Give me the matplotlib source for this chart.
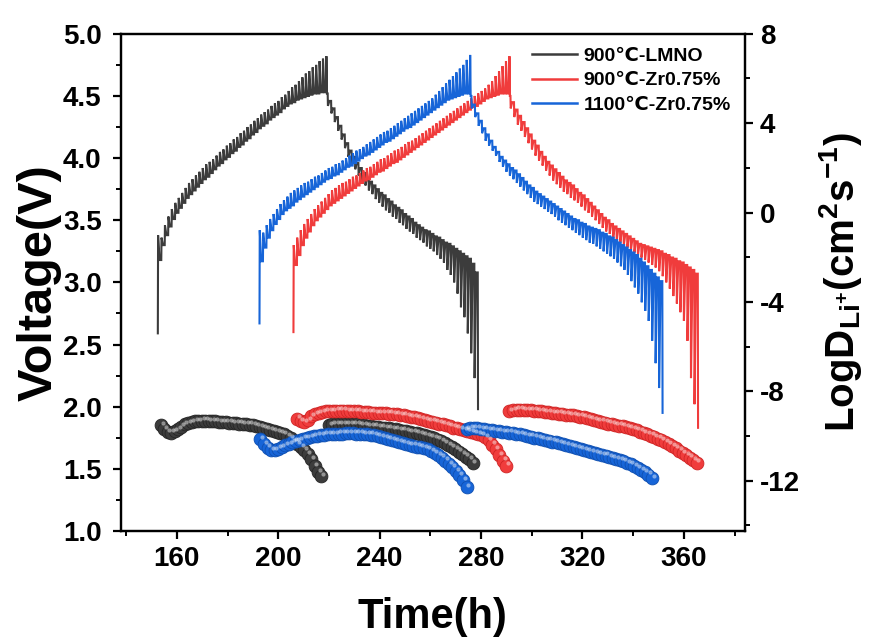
import numpy as np
import matplotlib.pyplot as plt
from matplotlib.lines import Line2D
from matplotlib.ticker import MultipleLocator
import matplotlib.transforms as mtransforms

plt.rcParams['font.family'] = ['Liberation Sans', 'DejaVu Sans']
plt.rcParams['font.weight'] = 'bold'
plt.rcParams['axes.unicode_minus'] = False
plt.rcParams['mathtext.fontset'] = 'custom'
plt.rcParams['mathtext.rm'] = 'Liberation Sans:bold'
plt.rcParams['mathtext.bf'] = 'Liberation Sans:bold'
plt.rcParams['mathtext.it'] = 'Liberation Sans:bold'

labels = ['900℃-LMNO', '900℃-Zr0.75%', '1100℃-Zr0.75%']
colors = ['#3c3c3c', '#f03c3c', '#1765d8']

# ---- GITT voltage, one value per pulse: rest (relaxed) voltage and pulse tip ----
# 900C-LMNO
bk_ch_t = (152.5, 218.9)
bk_ch_rest = [2.59, 3.18, 3.30, 3.38, 3.45, 3.51, 3.56, 3.60, 3.64, 3.68,
              3.71, 3.74, 3.77, 3.80, 3.83, 3.85, 3.88, 3.91, 3.94, 3.96,
              3.99, 4.01, 4.04, 4.06, 4.09, 4.11, 4.14, 4.16, 4.19, 4.21,
              4.24, 4.26, 4.28, 4.31, 4.33, 4.35, 4.37, 4.40, 4.42, 4.44,
              4.45, 4.47, 4.48, 4.49, 4.50, 4.51, 4.52, 4.52, 4.53, 4.53]
bk_ch_pulse = [3.38, 3.36, 3.46, 3.53, 3.59, 3.64, 3.68, 3.72, 3.76, 3.80,
               3.83, 3.86, 3.89, 3.92, 3.95, 3.97, 3.99, 4.02, 4.05, 4.07,
               4.10, 4.12, 4.15, 4.17, 4.20, 4.22, 4.25, 4.27, 4.30, 4.32,
               4.35, 4.37, 4.39, 4.42, 4.44, 4.46, 4.49, 4.51, 4.54, 4.57,
               4.59, 4.62, 4.65, 4.68, 4.70, 4.73, 4.75, 4.78, 4.80, 4.82]
bk_dis_t = (219.5, 278.7)
bk_dis_rest = [4.52, 4.46, 4.40, 4.33, 4.26, 4.19, 4.12, 4.06, 4.01, 3.96,
               3.92, 3.88, 3.84, 3.81, 3.78, 3.75, 3.72, 3.70, 3.67, 3.65,
               3.62, 3.60, 3.58, 3.55, 3.53, 3.51, 3.48, 3.46, 3.44, 3.42,
               3.41, 3.39, 3.37, 3.36, 3.34, 3.32, 3.31, 3.29, 3.27, 3.25,
               3.23, 3.21, 3.19, 3.15, 3.08]
bk_dis_pulse = [4.42, 4.36, 4.29, 4.22, 4.15, 4.08, 4.01, 3.95, 3.91, 3.86,
                3.82, 3.78, 3.74, 3.71, 3.67, 3.64, 3.61, 3.58, 3.56, 3.53,
                3.51, 3.48, 3.46, 3.43, 3.41, 3.39, 3.36, 3.34, 3.32, 3.29,
                3.27, 3.25, 3.22, 3.19, 3.16, 3.10, 3.06, 3.00, 2.91, 2.80,
                2.72, 2.59, 2.43, 2.23, 1.98]

# 900C-Zr0.75%
rd_ch_t = (206.0, 291.1)
rd_ch_rest = [2.60, 3.14, 3.22, 3.30, 3.36, 3.41, 3.46, 3.50, 3.53, 3.56,
              3.59, 3.62, 3.64, 3.66, 3.68, 3.70, 3.72, 3.74, 3.76, 3.78,
              3.80, 3.82, 3.83, 3.85, 3.87, 3.89, 3.90, 3.92, 3.94, 3.96,
              3.97, 3.99, 4.01, 4.03, 4.05, 4.07, 4.09, 4.11, 4.13, 4.15,
              4.17, 4.19, 4.21, 4.23, 4.25, 4.27, 4.29, 4.31, 4.33, 4.35,
              4.37, 4.39, 4.41, 4.42, 4.44, 4.46, 4.48, 4.49, 4.50, 4.51,
              4.52, 4.52, 4.52]
rd_ch_pulse = [3.30, 3.36, 3.42, 3.47, 3.51, 3.55, 3.59, 3.62, 3.65, 3.68,
               3.71, 3.74, 3.76, 3.78, 3.80, 3.81, 3.83, 3.85, 3.86, 3.88,
               3.90, 3.92, 3.93, 3.95, 3.97, 3.99, 4.00, 4.02, 4.04, 4.06,
               4.07, 4.09, 4.11, 4.13, 4.14, 4.16, 4.18, 4.20, 4.22, 4.24,
               4.26, 4.28, 4.30, 4.32, 4.34, 4.36, 4.38, 4.40, 4.42, 4.44,
               4.46, 4.48, 4.50, 4.52, 4.54, 4.56, 4.59, 4.62, 4.66, 4.70,
               4.74, 4.78, 4.82]
rd_dis_t = (291.6, 365.5)
rd_dis_rest = [4.50, 4.45, 4.39, 4.34, 4.29, 4.24, 4.19, 4.14, 4.10, 4.05,
               4.01, 3.97, 3.94, 3.91, 3.88, 3.85, 3.82, 3.80, 3.78, 3.75,
               3.72, 3.70, 3.67, 3.64, 3.61, 3.58, 3.55, 3.52, 3.50, 3.47,
               3.45, 3.43, 3.41, 3.39, 3.37, 3.35, 3.33, 3.31, 3.30, 3.29,
               3.28, 3.27, 3.26, 3.25, 3.23, 3.22, 3.20, 3.19, 3.17, 3.16,
               3.14, 3.12, 3.10, 3.07]
rd_dis_pulse = [4.40, 4.33, 4.27, 4.22, 4.17, 4.12, 4.07, 4.02, 3.98, 3.94,
                3.90, 3.86, 3.82, 3.79, 3.76, 3.73, 3.71, 3.68, 3.66, 3.64,
                3.61, 3.58, 3.56, 3.53, 3.50, 3.47, 3.44, 3.41, 3.39, 3.36,
                3.34, 3.32, 3.30, 3.28, 3.26, 3.24, 3.22, 3.20, 3.18, 3.16,
                3.14, 3.12, 3.09, 3.05, 3.00, 2.95, 2.89, 2.83, 2.76, 2.69,
                2.53, 2.23, 2.02, 1.83]

# 1100C-Zr0.75%
bl_ch_t = (192.6, 275.6)
bl_ch_rest = [2.67, 3.17, 3.28, 3.36, 3.42, 3.47, 3.51, 3.55, 3.58, 3.60,
              3.62, 3.65, 3.67, 3.69, 3.71, 3.73, 3.75, 3.77, 3.79, 3.81,
              3.83, 3.84, 3.86, 3.87, 3.89, 3.91, 3.93, 3.94, 3.96, 3.98,
              4.00, 4.02, 4.03, 4.05, 4.07, 4.09, 4.11, 4.13, 4.14, 4.16,
              4.18, 4.20, 4.22, 4.24, 4.25, 4.27, 4.29, 4.31, 4.33, 4.35,
              4.37, 4.39, 4.41, 4.43, 4.45, 4.47, 4.48, 4.49, 4.50, 4.51,
              4.52, 4.52]
bl_ch_pulse = [3.42, 3.40, 3.46, 3.51, 3.55, 3.59, 3.63, 3.66, 3.69, 3.72,
               3.74, 3.76, 3.78, 3.80, 3.81, 3.83, 3.85, 3.86, 3.88, 3.90,
               3.92, 3.93, 3.95, 3.96, 3.98, 4.00, 4.02, 4.04, 4.06, 4.07,
               4.09, 4.11, 4.13, 4.15, 4.17, 4.19, 4.21, 4.22, 4.24, 4.26,
               4.28, 4.30, 4.32, 4.34, 4.36, 4.38, 4.40, 4.42, 4.44, 4.46,
               4.48, 4.51, 4.54, 4.57, 4.60, 4.63, 4.66, 4.69, 4.72, 4.75,
               4.79, 4.83]
bl_dis_t = (276.2, 351.5)
bl_dis_rest = [4.50, 4.43, 4.36, 4.30, 4.24, 4.19, 4.14, 4.09, 4.05, 4.01,
               3.98, 3.95, 3.92, 3.90, 3.87, 3.84, 3.81, 3.78, 3.76, 3.73,
               3.71, 3.69, 3.67, 3.65, 3.63, 3.61, 3.59, 3.57, 3.55, 3.53,
               3.51, 3.50, 3.48, 3.47, 3.45, 3.44, 3.43, 3.42, 3.40, 3.39,
               3.37, 3.36, 3.34, 3.32, 3.30, 3.28, 3.26, 3.24, 3.22, 3.19,
               3.16, 3.13, 3.10, 3.07, 3.04, 3.01]
bl_dis_pulse = [4.40, 4.33, 4.26, 4.20, 4.14, 4.10, 4.06, 4.02, 3.97, 3.93,
                3.89, 3.86, 3.83, 3.80, 3.77, 3.74, 3.71, 3.68, 3.65, 3.63,
                3.61, 3.59, 3.57, 3.55, 3.53, 3.50, 3.48, 3.46, 3.44, 3.42,
                3.40, 3.38, 3.36, 3.34, 3.32, 3.31, 3.29, 3.27, 3.25, 3.23,
                3.21, 3.19, 3.16, 3.13, 3.10, 3.06, 3.01, 2.96, 2.91, 2.84,
                2.77, 2.69, 2.53, 2.35, 2.15, 1.95]

# ---- LogD (one point per titration step) ----
bk_d1_t = (153.7, 217.0)
bk_d1 = [-9.50, -9.70, -9.82, -9.85, -9.78, -9.68, -9.58, -9.48, -9.41, -9.37,
         -9.34, -9.32, -9.31, -9.31, -9.32, -9.33, -9.35, -9.37, -9.38, -9.39,
         -9.40, -9.41, -9.42, -9.44, -9.45, -9.47, -9.49, -9.52, -9.56, -9.60,
         -9.65, -9.70, -9.75, -9.79, -9.83, -9.87, -9.92, -10.00, -10.10, -10.22,
         -10.36, -10.50, -10.62, -10.80, -11.05, -11.35, -11.62, -11.80]
bk_d2_t = (220.0, 276.7)
bk_d2 = [-9.50, -9.48, -9.46, -9.45, -9.45, -9.45, -9.46, -9.47, -9.48, -9.50,
         -9.52, -9.54, -9.56, -9.58, -9.60, -9.62, -9.64, -9.66, -9.68, -9.70,
         -9.73, -9.76, -9.79, -9.82, -9.85, -9.88, -9.91, -9.95, -9.99, -10.04,
         -10.10, -10.16, -10.23, -10.31, -10.40, -10.50, -10.60, -10.70, -10.80, -10.92,
         -11.05, -11.20]
rd_d1_t = (207.5, 290.0)
rd_d1 = [-9.22, -9.35, -9.38, -9.28, -9.12, -9.02, -8.96, -8.92, -8.90, -8.88,
         -8.87, -8.86, -8.86, -8.86, -8.87, -8.88, -8.89, -8.90, -8.92, -8.93,
         -8.94, -8.95, -8.96, -8.97, -8.98, -8.99, -9.00, -9.01, -9.03, -9.05,
         -9.08, -9.11, -9.14, -9.17, -9.20, -9.24, -9.28, -9.32, -9.36, -9.40,
         -9.44, -9.48, -9.52, -9.57, -9.62, -9.66, -9.70, -9.74, -9.78, -9.82,
         -9.86, -9.91, -9.97, -10.05, -10.18, -10.38, -10.60, -10.85, -11.10, -11.32]
rd_d2_t = (291.2, 365.1)
rd_d2 = [-8.88, -8.84, -8.82, -8.82, -8.83, -8.84, -8.85, -8.86, -8.88, -8.90,
         -8.92, -8.94, -8.96, -8.98, -9.00, -9.02, -9.04, -9.06, -9.08, -9.10,
         -9.13, -9.16, -9.20, -9.24, -9.28, -9.32, -9.36, -9.40, -9.44, -9.47,
         -9.50, -9.53, -9.57, -9.61, -9.65, -9.70, -9.75, -9.80, -9.86, -9.92,
         -9.98, -10.05, -10.12, -10.20, -10.28, -10.36, -10.45, -10.55, -10.65, -10.75,
         -10.86, -10.97, -11.08, -11.19]
bl_d1_t = (193.0, 274.3)
bl_d1 = [-10.15, -10.35, -10.52, -10.62, -10.63, -10.56, -10.48, -10.41, -10.35, -10.29,
         -10.23, -10.17, -10.12, -10.08, -10.04, -10.01, -9.98, -9.96, -9.94, -9.92,
         -9.91, -9.90, -9.89, -9.89, -9.88, -9.88, -9.88, -9.89, -9.89, -9.90,
         -9.92, -9.94, -9.97, -10.00, -10.04, -10.08, -10.13, -10.18, -10.23, -10.27,
         -10.31, -10.35, -10.39, -10.43, -10.47, -10.51, -10.55, -10.60, -10.67, -10.75,
         -10.85, -10.97, -11.10, -11.25, -11.40, -11.57, -11.75, -11.98, -12.28]
bl_d2_t = (274.3, 347.4)
bl_d2 = [-9.68, -9.66, -9.65, -9.66, -9.68, -9.70, -9.72, -9.75, -9.77, -9.79,
         -9.81, -9.83, -9.85, -9.87, -9.90, -9.93, -9.96, -9.99, -10.03, -10.07,
         -10.11, -10.15, -10.18, -10.21, -10.25, -10.29, -10.33, -10.37, -10.41, -10.45,
         -10.49, -10.53, -10.57, -10.62, -10.67, -10.72, -10.76, -10.80, -10.84, -10.88,
         -10.93, -10.98, -11.03, -11.08, -11.14, -11.20, -11.27, -11.34, -11.42, -11.51,
         -11.61, -11.73, -11.88]


def gitt_path(ch_t, ch_rest, ch_pulse, dis_t, dis_rest, dis_pulse):
    t = list(np.linspace(ch_t[0], ch_t[1], len(ch_rest))) + \
        list(np.linspace(dis_t[0], dis_t[1], len(dis_rest)))
    rest = ch_rest + dis_rest
    pulse = ch_pulse + dis_pulse
    xs, ys = [], []
    for i in range(len(t)):
        xs += [t[i], t[i] + 0.1]
        ys += [rest[i], pulse[i]]
        if i + 1 < len(t):
            xs.append(t[i] + 0.5 * (t[i + 1] - t[i]))
            ys.append(rest[i + 1])
    return xs, ys


fig = plt.figure(figsize=(8.71, 6.44), dpi=100)
ax = fig.add_axes([0.139, 0.1755, 0.716, 0.772])
ax2 = ax.twinx()

curves = [
    (bk_ch_t, bk_ch_rest, bk_ch_pulse, bk_dis_t, bk_dis_rest, bk_dis_pulse),
    (rd_ch_t, rd_ch_rest, rd_ch_pulse, rd_dis_t, rd_dis_rest, rd_dis_pulse),
    (bl_ch_t, bl_ch_rest, bl_ch_pulse, bl_dis_t, bl_dis_rest, bl_dis_pulse),
]
for c, col in zip(curves, colors):
    x, y = gitt_path(*c)
    ax.plot(x, y, color=col, lw=1.5, solid_joinstyle='miter')

# diffusion coefficient beads
hl = mtransforms.offset_copy(ax2.transData, fig=fig, x=1.2, y=1.6, units='points')
groups = [(bk_d1_t, bk_d1, 0), (bk_d2_t, bk_d2, 0),
          (rd_d1_t, rd_d1, 1), (rd_d2_t, rd_d2, 1),
          (bl_d1_t, bl_d1, 2), (bl_d2_t, bl_d2, 2)]
edges = ['#262626', '#cf2525', '#0f4fb0']
for tr, vals, ci in groups:
    tt = np.linspace(tr[0], tr[1], len(vals))
    ax2.scatter(tt, vals, s=85, color=colors[ci], edgecolors=edges[ci],
                linewidths=0.6, zorder=3)
    ax2.scatter(tt, vals, s=9, color='white', alpha=0.45, lw=0,
                transform=hl, zorder=4)

ax.set_xlim(138, 384)
ax.set_ylim(1.0, 5.0)
ax2.set_ylim(-14.25, 8)

ax.xaxis.set_major_locator(MultipleLocator(40))
ax.xaxis.set_minor_locator(MultipleLocator(20))
ax.yaxis.set_major_locator(MultipleLocator(0.5))
ax.yaxis.set_minor_locator(MultipleLocator(0.25))
ax2.yaxis.set_major_locator(MultipleLocator(4))
ax2.yaxis.set_minor_locator(MultipleLocator(2))
ax.yaxis.set_major_formatter(plt.FormatStrFormatter('%.1f'))

for a in (ax, ax2):
    for s in a.spines.values():
        s.set_linewidth(1.6)
    a.tick_params(which='major', length=6, width=1.6, labelsize=20, pad=5)
    a.tick_params(which='minor', length=3.5, width=1.4)
ax.tick_params(axis='x', top=False, which='both')
ax.tick_params(axis='y', which='major', pad=8)

ax.set_xlabel('Time(h)', fontsize=30, fontweight='bold', labelpad=18)
ax.set_ylabel('Voltage(V)', fontsize=35, fontweight='bold', labelpad=1)
ax2.set_ylabel(r'$\mathbf{LogD_{Li^{+}}(cm^{2}s^{-1})}$', fontsize=29, labelpad=12)

handles = [Line2D([], [], color=c, lw=1.8) for c in colors]
ax.legend(handles, labels, loc='upper right', frameon=False,
          handlelength=2.3, handletextpad=0.35, labelspacing=0.35,
          borderaxespad=0.3, prop={'weight': 'bold', 'size': 14})

fig.savefig('out.png', dpi=100)
